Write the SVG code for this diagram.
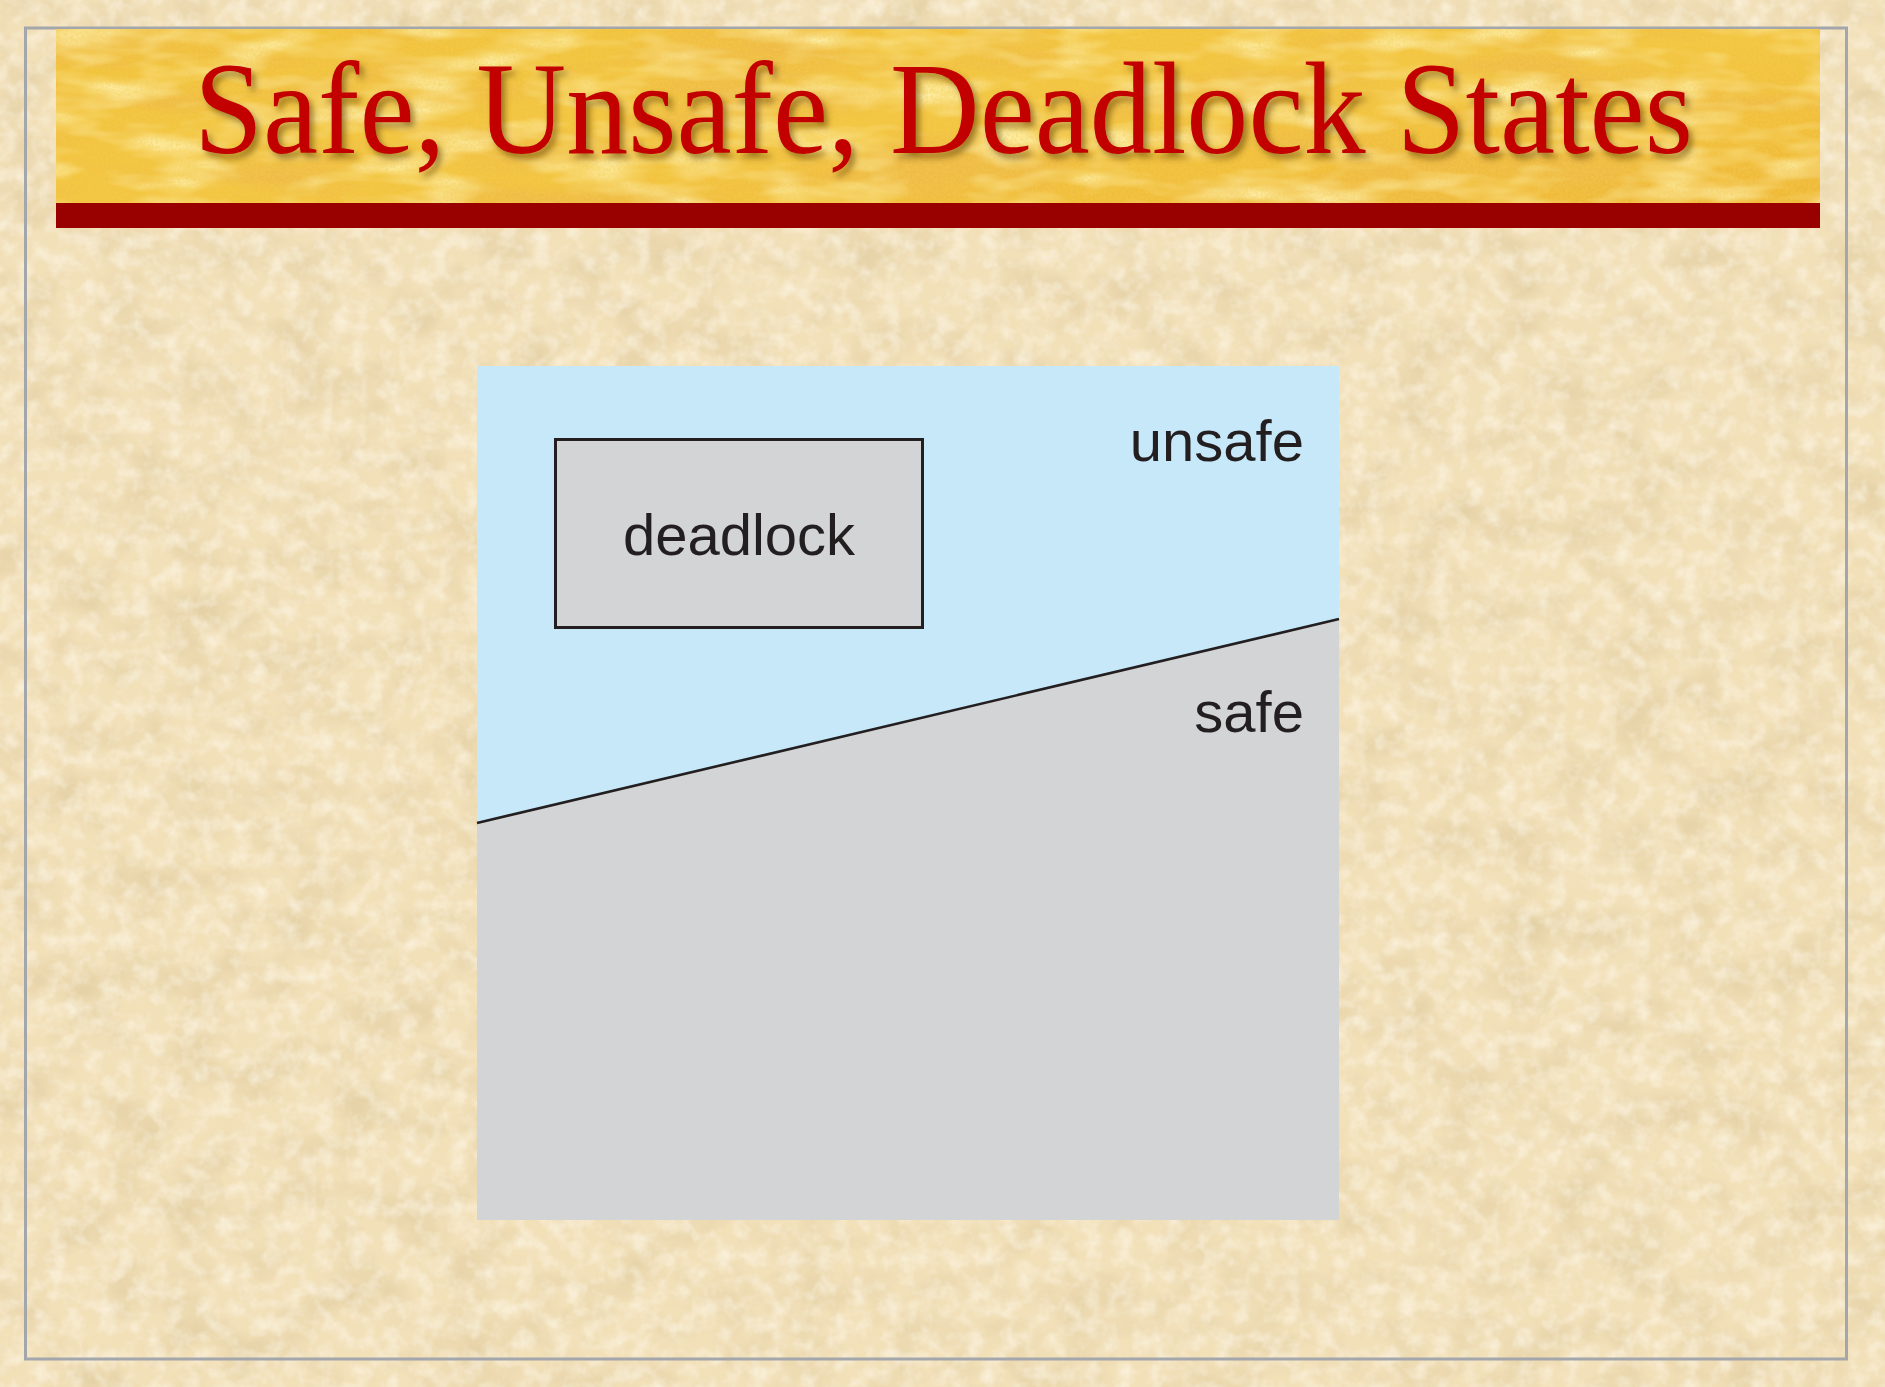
<svg xmlns="http://www.w3.org/2000/svg" width="1885" height="1387" viewBox="0 0 1885 1387">
  <defs>
    <style>
      .frame { fill: none; stroke: #a3a6aa; stroke-width: 3; }
      .title { font-family: "Liberation Serif", "Times New Roman", serif; font-size: 132px; fill: #c20000; }
      .label { font-family: "Liberation Sans", Arial, Helvetica, sans-serif; font-size: 58px; fill: #231f20; }
      .region-unsafe { fill: #c6e8f9; }
      .region-safe { fill: #d3d4d5; }
      .edge { fill: none; stroke: #231f20; stroke-width: 2.6; }
      .box { fill: #d3d4d5; stroke: #231f20; stroke-width: 3; }
    </style>
    <!-- mottled parchment grain -->
    <filter id="paperGrain" x="0" y="0" width="100%" height="100%" filterUnits="userSpaceOnUse">
      <feTurbulence type="fractalNoise" baseFrequency="0.018 0.022" numOctaves="4" seed="7" result="n"/>
      <feColorMatrix in="n" type="matrix" values="0 0 0 0 0.62  0 0 0 0 0.48  0 0 0 0 0.24  0.8 0 0 0 -0.34"/>
    </filter>
    <filter id="paperLight" x="0" y="0" width="100%" height="100%" filterUnits="userSpaceOnUse">
      <feTurbulence type="fractalNoise" baseFrequency="0.06" numOctaves="3" seed="21" result="n"/>
      <feColorMatrix in="n" type="matrix" values="0 0 0 0 1  0 0 0 0 0.97  0 0 0 0 0.88  0 1.2 0 0 -0.5"/>
    </filter>
    <!-- gold banner streaks -->
    <filter id="goldStreak" x="0" y="0" width="100%" height="100%" filterUnits="userSpaceOnUse">
      <feTurbulence type="fractalNoise" baseFrequency="0.005 0.025" numOctaves="4" seed="4" result="n"/>
      <feColorMatrix in="n" type="matrix" values="0 0 0 0 0.86  0 0 0 0 0.5  0 0 0 0 0.06  2.4 0 0 0 -0.95"/>
    </filter>
    <filter id="goldLight" x="0" y="0" width="100%" height="100%" filterUnits="userSpaceOnUse">
      <feTurbulence type="fractalNoise" baseFrequency="0.012 0.04" numOctaves="3" seed="15" result="n"/>
      <feColorMatrix in="n" type="matrix" values="0 0 0 0 1  0 0 0 0 0.9  0 0 0 0 0.45  0 2.0 0 0 -0.85"/>
    </filter>
    <filter id="goldGrain" x="0" y="0" width="100%" height="100%" filterUnits="userSpaceOnUse">
      <feTurbulence type="fractalNoise" baseFrequency="0.4" numOctaves="2" seed="11" result="n"/>
      <feColorMatrix in="n" type="matrix" values="0 0 0 0 0.9  0 0 0 0 0.6  0 0 0 0 0.1  0 1.0 0 0 -0.35"/>
    </filter>
    <filter id="titleShadow" x="-5%" y="-20%" width="110%" height="150%">
      <feGaussianBlur in="SourceAlpha" stdDeviation="3"/>
      <feOffset dx="4" dy="5" result="b"/>
      <feFlood flood-color="#5a3a00" flood-opacity="0.55"/>
      <feComposite in2="b" operator="in" result="s"/>
      <feMerge>
        <feMergeNode in="s"/>
        <feMergeNode in="SourceGraphic"/>
      </feMerge>
    </filter>
    <linearGradient id="goldBase" x1="0" y1="0" x2="1" y2="1">
      <stop offset="0" stop-color="#f1c23a"/>
      <stop offset="0.5" stop-color="#f3c640"/>
      <stop offset="1" stop-color="#efb834"/>
    </linearGradient>
  </defs>

  <!-- parchment background -->
  <g id="background">
    <rect x="0" y="0" width="1885" height="1387" fill="#f2e0b9"/>
    <rect x="0" y="0" width="1885" height="1387" filter="url(#paperGrain)"/>
    <rect x="0" y="0" width="1885" height="1387" filter="url(#paperLight)"/>
    <rect class="frame" x="25.5" y="28" width="1821" height="1331"/>
  </g>

  <!-- title banner -->
  <g id="banner">
    <rect x="56" y="29" width="1764" height="175" fill="url(#goldBase)"/>
    <svg x="56" y="29" width="1764" height="175" overflow="hidden">
      <rect x="0" y="0" width="1764" height="175" filter="url(#goldStreak)"/>
      <rect x="0" y="0" width="1764" height="175" filter="url(#goldLight)"/>
      <rect x="0" y="0" width="1764" height="175" filter="url(#goldGrain)"/>
    </svg>
    <rect x="56" y="203" width="1764" height="25" fill="#990000"/>
    <text class="title" x="194" y="153" textLength="1499" lengthAdjust="spacingAndGlyphs" filter="url(#titleShadow)">Safe, Unsafe, Deadlock States</text>
  </g>

  <!-- state space -->
  <g id="unsafe-region">
    <rect class="region-unsafe" x="477" y="366" width="862" height="854"/>
    <text class="label" x="1304" y="461" text-anchor="end">unsafe</text>
  </g>
  <g id="safe-region">
    <polygon class="region-safe" points="477,823 1339,619 1339,1220 477,1220"/>
    <text class="label" x="1304" y="732" text-anchor="end">safe</text>
  </g>
  <g id="connectors">
    <line class="edge" x1="477" y1="823" x2="1339" y2="619"/>
  </g>
  <g id="deadlock">
    <rect class="box" x="555.5" y="439.5" width="367" height="188"/>
    <text class="label" x="739" y="555" text-anchor="middle">deadlock</text>
  </g>
</svg>
